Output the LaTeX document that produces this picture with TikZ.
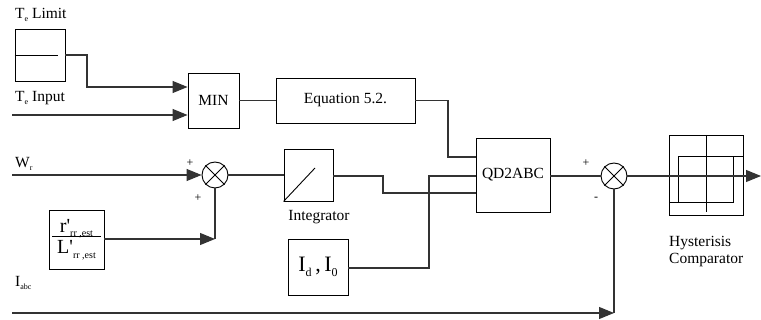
\documentclass[tikz,border=0pt]{standalone}
\usepackage{fontspec}
\setmainfont{Liberation Serif}
\usetikzlibrary{arrows.meta}
\newcommand{\lsub}[1]{\raisebox{-0.4ex}{\fontsize{8}{9}\selectfont #1}}
\newcommand{\fsub}[1]{\raisebox{-0.5ex}{\fontsize{10}{11}\selectfont #1}}
\begin{document}
\begin{tikzpicture}[x=1pt,y=-1pt,
  every node/.style={font=\fontsize{15.5}{17}\selectfont},
  blk/.style={draw=black,line width=0.9pt,rectangle,inner sep=0pt},
  summ/.style={draw=black,line width=0.9pt,circle,minimum size=26pt,inner sep=0pt},
  conn/.style={draw=black!80,line width=1.1pt},
  arr/.style={conn,-{Triangle[length=15pt,width=12pt]}},
  lbl/.style={anchor=west,inner sep=0pt},
  sgn/.style={inner sep=0pt,font=\fontsize{12}{13}\selectfont}]
\useasboundingbox (0,0) rectangle (761,320);

% blocks
\node[blk,minimum width=50pt,minimum height=52pt] (lim) at (40,55) {};
\node[blk,minimum width=51pt,minimum height=55pt] (min) at (213.5,100.5) {MIN};
\node[blk,minimum width=139pt,minimum height=45pt] (eq) at (345.5,100.5) {Equation 5.2.};
\node[blk,minimum width=74pt,minimum height=74pt] (qd) at (513,175) {QD2ABC};
\node[blk,minimum width=74pt,minimum height=80pt] (hy) at (706,175) {};
\node[blk,minimum width=49pt,minimum height=52pt] (int) at (308.5,175) {};
\node[blk,minimum width=55pt,minimum height=59pt] (frac) at (76.5,239.5)
  {\begin{tabular}{@{}c@{}}\makebox[49pt]{\fontsize{20}{21}\selectfont r\textquotesingle\fsub{rr ,est}}\\[-2pt]\hline
   \rule{0pt}{17pt}\fontsize{20}{21}\selectfont L\textquotesingle\fsub{rr ,est}\end{tabular}};
\node[blk,minimum width=60pt,minimum height=56pt] (id) at (318,267)
  {\fontsize{22}{23}\selectfont I\raisebox{-0.5ex}{\fontsize{12}{13}\selectfont d}\,,\,I\raisebox{-0.5ex}{\fontsize{12}{13}\selectfont 0}};
\node[summ] (s1) at (215,175) {};
\node[summ] (s2) at (614,176) {};
\draw[line width=0.9pt] (s1.north west) -- (s1.south east) (s1.north east) -- (s1.south west);
\draw[line width=0.9pt] (s2.north west) -- (s2.south east) (s2.north east) -- (s2.south west);

% block internals
\draw[line width=0.9pt] (lim.west) -- (58,55);
\draw[line width=0.9pt] (int.south west) -- (315,168);
\draw[line width=0.9pt] (706,135) -- (706,212);
\draw[line width=0.9pt] (743,156) -- (678,156) -- (678,202) (669,202) -- (733,202) -- (733,156);

% labels
\node[lbl] (tl) at (15,15) {T\lsub{e} Limit};
\node[lbl] (ti) at (15,98) {T\lsub{e} Input};
\node[lbl] (wr) at (15,164) {W\lsub{r}};
\node[lbl] (ia) at (15,283) {I\lsub{abc}};
\node[inner sep=0pt] (il) at (319,217) {Integrator};
\node[anchor=north west,inner sep=0pt,align=left] (hl) at (669,236) {Hysterisis\\Comparator};
\node[sgn] (p1) at (190,163) {+};
\node[sgn] (p2) at (198,198) {+};
\node[sgn] (p3) at (586,163) {+};
\node[sgn] (m3) at (596,199) {-};

% coordinates
\coordinate (tin) at (12,115);
\coordinate (wrs) at (12,175);
\coordinate (ias) at (12,313);
\coordinate (iac) at (614,313);
\coordinate (fc) at (215,239);
\coordinate (out) at (761,176);

% connectors
\draw[arr] (lim.east) -- (87,55) -- (87,87) -- (min.west |- 0,87);
\draw[arr] (tin) -- (min.west |- tin);
\draw[conn] (min.east) -- (eq.west);
\draw[conn] (eq.east) -- (448,100.5) -- (448,157) -- (qd.west |- 0,157);
\draw[arr] (wrs) -- (s1.west);
\draw[arr] (frac.east |- fc) -- (fc);
\draw[conn] (fc) -- (s1.south);
\draw[conn] (s1.east) -- (int.west);
\draw[conn] (int.east |- 0,176) -- (383,176) -- (383,193) -- (qd.west |- 0,193);
\draw[conn] (id.east |- 0,268) -- (429,268) -- (429,176) -- (qd.west |- 0,176);
\draw[conn] (qd.east |- s2) -- (s2.west);
\draw[arr] (s2.east) -- (out);
\draw[arr] (ias) -- (iac);
\draw[conn] (iac) -- (s2.south);
\end{tikzpicture}
\end{document}
